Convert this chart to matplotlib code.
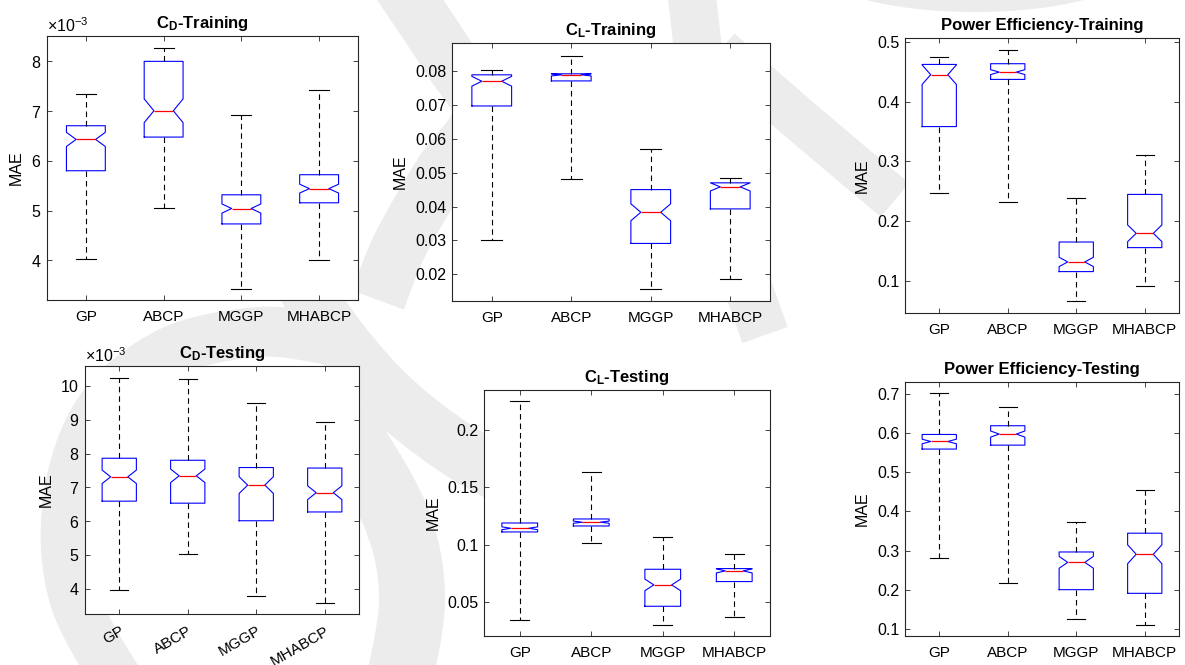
import numpy as np
import matplotlib
matplotlib.use('Agg')
import matplotlib.pyplot as plt
from matplotlib.path import Path
from matplotlib.patches import PathPatch, Ellipse
from matplotlib.ticker import FuncFormatter

plt.rcParams['font.family'] = ['Liberation Sans', 'DejaVu Sans']
plt.rcParams['mathtext.fontset'] = 'custom'
plt.rcParams['mathtext.rm'] = 'Liberation Sans'
plt.rcParams['mathtext.bf'] = 'Liberation Sans:bold'
plt.rcParams['axes.linewidth'] = 0.8
plt.rcParams['axes.edgecolor'] = '0.15'

methods = ['GP', 'ABCP', 'MGGP', 'MHABCP']
n_runs = 100   # runs per method, used for the notch half-width

# five-number summaries per method: [lower whisker, Q1, median, Q3, upper whisker]
cd_train = [[4.02e-3, 5.80e-3, 6.43e-3, 6.705e-3, 7.336e-3],
            [5.05e-3, 6.477e-3, 7.006e-3, 8.00e-3, 8.26e-3],
            [3.43e-3, 4.73e-3, 5.04e-3, 5.316e-3, 6.92e-3],
            [4.00e-3, 5.155e-3, 5.44e-3, 5.72e-3, 7.42e-3]]
cl_train = [[0.0302, 0.0697, 0.0770, 0.0789, 0.0804],
            [0.0481, 0.0771, 0.0789, 0.0792, 0.0845],
            [0.0155, 0.0291, 0.0383, 0.0450, 0.0571],
            [0.0187, 0.0393, 0.0458, 0.0470, 0.0485]]
pe_train = [[0.2465, 0.3585, 0.4455, 0.4627, 0.4744],
            [0.232, 0.4376, 0.4498, 0.4639, 0.4866],
            [0.0666, 0.1154, 0.1316, 0.165, 0.2391],
            [0.0905, 0.1556, 0.1796, 0.2448, 0.3105]]
cd_test = [[3.95e-3, 6.59e-3, 7.31e-3, 7.86e-3, 10.245e-3],
           [5.03e-3, 6.53e-3, 7.34e-3, 7.80e-3, 10.20e-3],
           [3.79e-3, 6.01e-3, 7.065e-3, 7.585e-3, 9.49e-3],
           [3.58e-3, 6.27e-3, 6.84e-3, 7.57e-3, 8.93e-3]]
cl_test = [[0.0349, 0.1112, 0.1144, 0.119, 0.225],
           [0.1019, 0.1164, 0.1197, 0.1225, 0.1637],
           [0.030, 0.0465, 0.0651, 0.0787, 0.1066],
           [0.0369, 0.0680, 0.0773, 0.0793, 0.0921]]
pe_test = [[0.2809, 0.559, 0.5783, 0.5962, 0.7008],
           [0.2189, 0.569, 0.5972, 0.6184, 0.666],
           [0.1255, 0.2009, 0.2705, 0.2969, 0.3722],
           [0.111, 0.1916, 0.2911, 0.3447, 0.4543]]

W, H = 1185, 665


def px_box(x0, y0, x1, y1):
    return [x0 / W, 1 - y1 / H, (x1 - x0) / W, (y1 - y0) / H]


def smooth_path(pts):
    pts = np.asarray(pts, float)
    verts = [pts[0]]
    codes = [Path.MOVETO]
    for i in range(len(pts) - 1):
        p0 = pts[max(i - 1, 0)]
        p1 = pts[i]
        p2 = pts[i + 1]
        p3 = pts[min(i + 2, len(pts) - 1)]
        verts += [p1 + (p2 - p0) / 6, p2 - (p3 - p1) / 6, p2]
        codes += [Path.CURVE4] * 3
    return Path(verts, codes)


def make_stats(summ):
    out = []
    for lo, q1, med, q3, hi in summ:
        half = 1.57 * (q3 - q1) / np.sqrt(n_runs)
        out.append(dict(whislo=lo, q1=q1, med=med, q3=q3, whishi=hi,
                        cilo=max(med - half, q1), cihi=min(med + half, q3),
                        fliers=[]))
    return out


def draw_panel(box, summ, title, ylim, yticks, sci=False, rotate=False):
    ax = fig.add_axes(px_box(*box))
    ax.set_facecolor('white')
    ax.bxp(make_stats(summ), positions=[1, 2, 3, 4], widths=0.5,
           shownotches=True, showfliers=False, capwidths=0.26,
           boxprops=dict(color='blue', lw=0.8),
           medianprops=dict(color='red', lw=0.9),
           whiskerprops=dict(color='k', lw=0.8, linestyle=(0, (5, 3.5))),
           capprops=dict(color='k', lw=0.8))
    ax.set_xlim(0.5, 4.5)
    ax.set_ylim(*ylim)
    ax.set_yticks(yticks)
    if sci:
        ax.ticklabel_format(axis='y', style='sci', scilimits=(-3, -3), useMathText=True)
        ax.yaxis.get_offset_text().set_fontsize(11.5)
    else:
        ax.yaxis.set_major_formatter(FuncFormatter(lambda v, p: '%g' % v))
    ax.set_xticks([1, 2, 3, 4])
    if rotate:
        ax.set_xticklabels(methods, rotation=30, ha='right', rotation_mode='anchor')
    else:
        ax.set_xticklabels(methods)
    ax.tick_params(direction='in', top=True, right=True, length=3.5, width=0.6,
                   color='0.15')
    ax.tick_params(axis='x', pad=7, labelsize=11)
    ax.tick_params(axis='y', pad=4, labelsize=11.5)
    ax.set_ylabel('MAE', fontsize=11.5, labelpad=5)
    ax.set_title(title, fontsize=12, fontweight='bold', pad=6)
    return ax


fig = plt.figure(figsize=(11.85, 6.65), dpi=100)

# light grey watermark, sitting behind the (opaque) panels
bg = fig.add_axes([0, 0, 1, 1], zorder=-10)
bg.set_xlim(0, W)
bg.set_ylim(H, 0)
bg.axis('off')
wm = '#ececec'
strokes = [
    # big loop round the lower-left panel
    ([(130, 700), (75, 600), (68, 500), (100, 410), (170, 352), (260, 332),
      (330, 340)], 50),
    # ring's right side, widening downward
    ([(340, 420), (395, 515), (412, 600), (395, 700)], 66),
    # S-shaped stroke behind the upper middle
    ([(390, -30), (450, 60), (480, 115), (440, 175), (400, 245), (378, 300)], 55),
    ([(290, 255), (325, 320), (385, 392), (455, 448), (530, 490)], 56),
    # strokes between middle and right column
    ([(690, -20), (705, 100), (730, 230), (765, 335)], 48),
    ([(720, 50), (800, 120), (895, 200)], 44),
]
for pts, wpx in strokes:
    bg.add_patch(PathPatch(smooth_path(pts), fc='none', ec=wm, lw=wpx * 0.72,
                           capstyle='butt'))
bg.add_patch(Ellipse((975, -30), 310, 84, fc=wm, ec='none'))

draw_panel((47, 36, 358, 300), cd_train, r'$\mathbf{C_D}$-Training',
           (3.2e-3, 8.51e-3), np.arange(4, 9) * 1e-3, sci=True)
draw_panel((452, 43, 770, 301), cl_train, r'$\mathbf{C_L}$-Training',
           (0.0121, 0.0883), np.arange(2, 9) * 0.01)
draw_panel((905, 38, 1179, 313), pe_train, 'Power Efficiency-Training',
           (0.046, 0.507), np.arange(1, 6) * 0.1)
draw_panel((85, 366, 359, 614), cd_test, r'$\mathbf{C_D}$-Testing',
           (3.25e-3, 10.59e-3), np.arange(4, 11) * 1e-3, sci=True, rotate=True)
draw_panel((484, 390, 770, 636), cl_test, r'$\mathbf{C_L}$-Testing',
           (0.0206, 0.2348), np.arange(1, 5) * 0.05)
draw_panel((905, 382, 1179, 636), pe_test, 'Power Efficiency-Testing',
           (0.0829, 0.7298), np.arange(1, 8) * 0.1)

fig.savefig('out.png', dpi=100)
